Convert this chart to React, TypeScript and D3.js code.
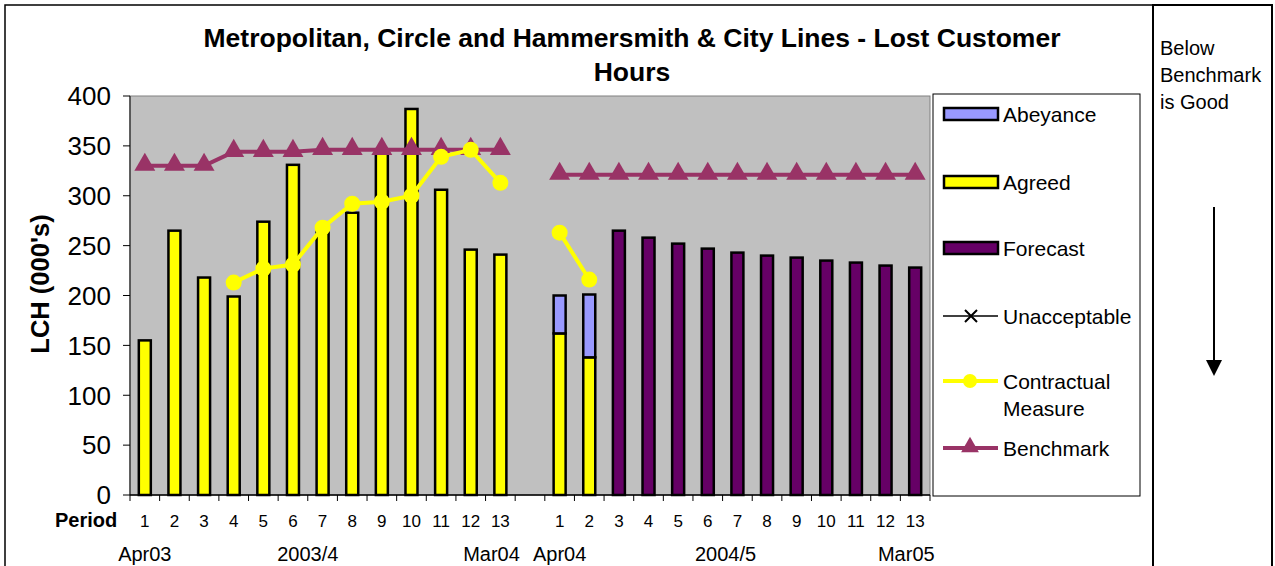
import React from "react"
import * as d3 from "d3"

// 13 periods of 2003/4, a blank slot, 13 periods of 2004/5
const periodLabels = ["1","2","3","4","5","6","7","8","9","10","11","12","13","","1","2","3","4","5","6","7","8","9","10","11","12","13"]

const agreed = [155,265,218,199,274,331,265,283,345,387,306,246,241,null,162,138,null,null,null,null,null,null,null,null,null,null,null]
const abeyance = [null,null,null,null,null,null,null,null,null,null,null,null,null,null,38,63,null,null,null,null,null,null,null,null,null,null,null]
const forecast = [null,null,null,null,null,null,null,null,null,null,null,null,null,null,null,null,265,258,252,247,243,240,238,235,233,230,228]
const unacceptable: (number | null)[] = []
const contractual = [null,null,null,213,227,231,268,292,294,300,339,346,313,null,263,216,null,null,null,null,null,null,null,null,null,null,null]
const benchmark = [330,330,330,344,344,344,346,346,346,346,346,346,346,null,321,321,321,321,321,321,321,321,321,321,321,321,321]

const yTicks = [0,50,100,150,200,250,300,350,400]
// second row of category labels: text and the category slot it sits under
const yearLabels = ["Apr03","2003/4","Mar04","Apr04","2004/5","Mar05"]
const yearLabelSlots = [0,5.5,11.7,14,19.6,25.7]

const legendItems = ["Abeyance","Agreed","Forecast","Unacceptable","Contractual|Measure","Benchmark"]

const FONT = "'Liberation Sans', Arial, sans-serif"
const YELLOW = "#FFFF00"
const PURPLE = "#660066"
const LILAC = "#9999FF"
const PLUM = "#993366"

export default function App() {
  const plot = { left: 130, right: 930, top: 96, bottom: 495 }
  const idx = d3.range(periodLabels.length)
  const x = d3.scaleBand<number>().domain(idx).range([plot.left, plot.right])
  const y = d3.scaleLinear().domain([0, 400]).range([plot.bottom, plot.top])
  const bw = 12
  const cx = (i: number) => (x(i) as number) + x.bandwidth() / 2

  const line = d3
    .line<number | null>()
    .defined(d => d != null)
    .x((_, i) => cx(i))
    .y(d => y(d as number))

  const tri = d3.symbol().type(d3.symbolTriangle).size(190)()

  const bars: React.ReactNode[] = []
  idx.forEach(i => {
    const a = agreed[i]
    if (a != null) {
      bars.push(<rect key={"ag" + i} x={cx(i) - bw / 2} y={y(a)} width={bw} height={y(0) - y(a)} fill={YELLOW} stroke="#000" strokeWidth={2.5} />)
      const ab = abeyance[i]
      if (ab != null) {
        bars.push(<rect key={"ab" + i} x={cx(i) - bw / 2} y={y(a + ab)} width={bw} height={y(a) - y(a + ab)} fill={LILAC} stroke="#000" strokeWidth={2.5} />)
      }
    }
    const f = forecast[i]
    if (f != null) {
      bars.push(<rect key={"fc" + i} x={cx(i) - bw / 2} y={y(f)} width={bw} height={y(0) - y(f)} fill={PURPLE} stroke="#000" strokeWidth={2.5} />)
    }
  })

  const legendRowY = [114, 182, 248, 316, 381, 448]

  return (
    <svg width={1275} height={566} style={{ position: "absolute", left: 0, top: 0, background: "#fff" }} fontFamily={FONT}>
      <rect x={5} y={5} width={1148} height={620} fill="#fff" stroke="#000" strokeWidth={1.5} />
      <rect x={1153} y={5} width={119} height={620} fill="#fff" stroke="#000" strokeWidth={2} />

      <text x={632} y={47} textAnchor="middle" fontSize={26.5} fontWeight="bold">Metropolitan, Circle and Hammersmith &amp; City Lines - Lost Customer</text>
      <text x={632} y={81} textAnchor="middle" fontSize={26.5} fontWeight="bold">Hours</text>

      <rect x={plot.left} y={plot.top} width={plot.right - plot.left} height={plot.bottom - plot.top} fill="#C0C0C0" stroke="#808080" strokeWidth={1} />

      {/* y axis */}
      <line x1={plot.left} x2={plot.left} y1={plot.top} y2={plot.bottom} stroke="#404040" strokeWidth={1.5} />
      {yTicks.map(t => (
        <g key={t}>
          <line x1={plot.left - 7} x2={plot.left} y1={y(t)} y2={y(t)} stroke="#000" />
          <text x={plot.left - 19} y={y(t)} dy="0.36em" textAnchor="end" fontSize={26}>{t}</text>
        </g>
      ))}
      <text transform={`translate(49,284) rotate(-90)`} textAnchor="middle" fontSize={25.5} fontWeight="bold">LCH (000's)</text>

      {/* x axis */}
      <line x1={plot.left} x2={plot.right} y1={plot.bottom} y2={plot.bottom} stroke="#000" strokeWidth={1.5} />
      {d3.range(periodLabels.length + 1).map(i => {
        const tx = i < periodLabels.length ? (x(i) as number) : plot.right
        return <line key={"xt" + i} x1={tx} x2={tx} y1={plot.bottom} y2={plot.bottom + 6} stroke="#000" />
      })}
      <text x={55} y={527} fontSize={20} fontWeight="bold">Period</text>
      {periodLabels.map((p, i) => (
        <text key={"pl" + i} x={cx(i)} y={527} textAnchor="middle" fontSize={17}>{p}</text>
      ))}
      {yearLabels.map((l, j) => (
        <text key={l} x={cx(0) + yearLabelSlots[j] * x.bandwidth()} y={561} textAnchor="middle" fontSize={20}>{l}</text>
      ))}

      {bars}

      {/* lines */}
      <path d={line(benchmark) || ""} fill="none" stroke={PLUM} strokeWidth={4} />
      {benchmark.map((v, i) => v == null ? null : (
        <path key={"bm" + i} d={tri || ""} transform={`translate(${cx(i)},${y(v) - 1})`} fill={PLUM} />
      ))}
      <path d={line(contractual) || ""} fill="none" stroke={YELLOW} strokeWidth={4} />
      {contractual.map((v, i) => v == null ? null : (
        <circle key={"cm" + i} cx={cx(i)} cy={y(v)} r={8} fill={YELLOW} />
      ))}
      {unacceptable.length > 0 && <path d={line(unacceptable) || ""} fill="none" stroke="#000" strokeWidth={2} />}

      {/* legend */}
      <rect x={933} y={94} width={207} height={402} fill="#fff" stroke="#000" strokeWidth={1} />
      {legendItems.map((item, k) => {
        const ly = legendRowY[k]
        const parts = item.split("|")
        let key: React.ReactNode
        if (k < 3) {
          const fill = [LILAC, YELLOW, PURPLE][k]
          key = <rect x={944} y={ly - 6} width={54} height={12} fill={fill} stroke="#000" strokeWidth={2.5} />
        } else if (k === 3) {
          key = (
            <g>
              <line x1={943} x2={998} y1={ly} y2={ly} stroke="#000" strokeWidth={1.5} />
              <path d={`M${965},${ly - 6}L${977},${ly + 6}M${965},${ly + 6}L${977},${ly - 6}`} stroke="#000" strokeWidth={2} />
            </g>
          )
        } else if (k === 4) {
          key = (
            <g>
              <line x1={943} x2={998} y1={ly} y2={ly} stroke={YELLOW} strokeWidth={4} />
              <circle cx={970} cy={ly} r={7} fill={YELLOW} />
            </g>
          )
        } else {
          key = (
            <g>
              <line x1={943} x2={998} y1={ly} y2={ly} stroke={PLUM} strokeWidth={4} />
              <path d={tri || ""} transform={`translate(970,${ly - 1}) scale(0.85)`} fill={PLUM} />
            </g>
          )
        }
        return (
          <g key={item}>
            {key}
            {parts.map((p, m) => (
              <text key={p} x={1003} y={ly + m * 27} dy="0.36em" fontSize={21}>{p}</text>
            ))}
          </g>
        )
      })}

      {/* note panel */}
      <text x={1160} y={55} fontSize={20}>Below</text>
      <text x={1160} y={82} fontSize={20}>Benchmark</text>
      <text x={1160} y={109} fontSize={20}>is Good</text>
      <line x1={1214} x2={1214} y1={207} y2={362} stroke="#000" strokeWidth={2} />
      <path d="M1206,360L1222,360L1214,376Z" fill="#000" />
    </svg>
  )
}
